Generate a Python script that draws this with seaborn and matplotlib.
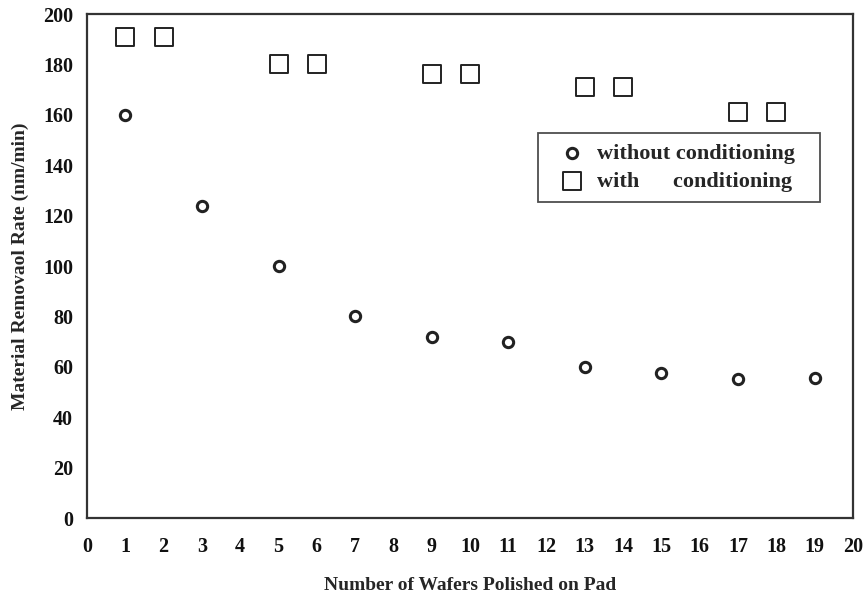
import matplotlib
matplotlib.use("Agg")
import matplotlib.pyplot as plt
import seaborn as sns
import pandas as pd

x_without = [1, 3, 5, 7, 9, 11, 13, 15, 17, 19]
y_without = [160, 124, 100, 80, 72, 70, 60, 57.5, 55, 55.5]
x_with = [1, 2, 5, 6, 9, 10, 13, 14, 17, 18]
y_with = [191, 191, 180, 180, 176, 176, 171, 171, 161, 161]
label_without = "without conditioning"
label_with = "with      conditioning"
x_ticks = list(range(0, 21))
y_ticks = list(range(0, 201, 20))

sns.set_style("white")
plt.rcParams['font.family'] = ['Liberation Serif', 'DejaVu Serif']
plt.rcParams['font.weight'] = 'bold'

fig = plt.figure(figsize=(8.65, 5.99), dpi=100)
ax = fig.add_axes([0.1006, 0.1352, 0.8855, 0.8414])

df_wo = pd.DataFrame({"x": x_without, "y": y_without})
df_w = pd.DataFrame({"x": x_with, "y": y_with})

sns.scatterplot(data=df_wo, x="x", y="y", ax=ax, marker="o", s=55,
                facecolor="white", edgecolor="#222222", linewidth=2.2,
                label=label_without, zorder=3)
sns.scatterplot(data=df_w, x="x", y="y", ax=ax, marker="s", s=150,
                facecolor="white", edgecolor="#222222", linewidth=1.4,
                label=label_with, zorder=3)

ax.set_xlim(0, 20)
ax.set_ylim(0, 200)
ax.set_xticks(x_ticks)
ax.set_yticks(y_ticks)
ax.tick_params(axis="x", direction="in", length=6, width=1.3, pad=14,
               labelsize=14.5, colors="#111111")
ax.tick_params(axis="y", direction="in", length=11, width=1.3, pad=10,
               labelsize=14.5, colors="#111111")
for lbl in ax.get_xticklabels() + ax.get_yticklabels():
    lbl.set_fontweight("bold")
for sp in ax.spines.values():
    sp.set_color("#333333")
    sp.set_linewidth(1.6)

ax.set_xlabel("Number of Wafers Polished on Pad", fontsize=14,
              fontweight="bold", labelpad=14)
ax.set_ylabel("Material Removaol Rate (nm/min)", fontsize=14,
              fontweight="bold", labelpad=10)

leg_w = (820 - 538) / 766
leg_h = (203 - 132) / 505
leg = ax.legend(loc="upper left",
                bbox_to_anchor=(0.589, 0.764 - leg_h, leg_w, leg_h),
                mode="expand",
                borderaxespad=0, frameon=True, fancybox=False,
                handletextpad=0.1, handlelength=2.1, borderpad=0.45,
                labelspacing=0.35,
                prop={"weight": "bold", "size": 16})
leg.get_frame().set_edgecolor("#222222")
leg.get_frame().set_linewidth(1.3)

fig.savefig("out.png", dpi=100)
